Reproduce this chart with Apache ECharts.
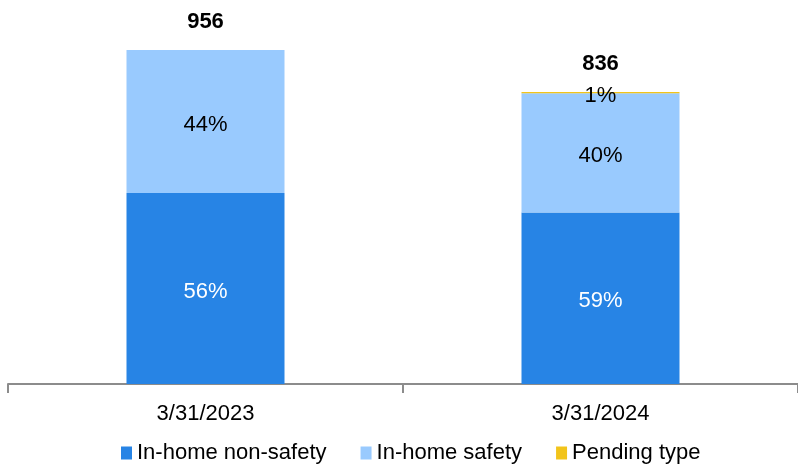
<!DOCTYPE html>
<html>
<head>
<meta charset="utf-8">
<script src="https://cdn.jsdelivr.net/npm/echarts@6/dist/echarts.min.js"></script>
<style>
html,body{margin:0;padding:0;background:#fff;}
#chart{width:798px;height:465px;}
</style>
</head>
<body>
<div id="chart"></div>
<script>
const categories = ['3/31/2023', '3/31/2024'];
const nonSafety = [547, 491];
const safety = [409, 341];
const pending = [null, 4];
const totals = [956, 836];
const nonSafetyLabels = ['56%', '59%'];
const safetyLabels = ['44%', '40%'];
const pendingLabels = ['', '1%'];

const FONT = '"Liberation Sans", Arial, sans-serif';
const chart = echarts.init(document.getElementById('chart'));

function seg(name, data, color, labels, labelColor) {
  return {
    name: name,
    type: 'bar',
    stack: 'total',
    barWidth: '40%',
    data: data,
    itemStyle: { color: color },
    label: {
      show: true,
      position: 'inside',
      offset: [0, 3],
      color: labelColor,
      fontFamily: FONT,
      fontSize: 22,
      formatter: p => labels[p.dataIndex]
    }
  };
}

chart.setOption({
  animation: false,
  grid: { left: 8, width: 795, top: 50, bottom: 81 },
  legend: {
    data: ['In-home non-safety', 'In-home safety', 'Pending type'],
    left: 116,
    top: 437,
    itemWidth: 11,
    itemHeight: 13,
    itemGap: 34,
    icon: 'rect',
    textStyle: { fontFamily: FONT, fontSize: 22, color: '#000' }
  },
  xAxis: {
    type: 'category',
    data: categories,
    axisLine: { lineStyle: { color: '#8c8c8c', width: 2 } },
    axisTick: { show: true, length: 9, lineStyle: { color: '#8c8c8c', width: 2 } },
    axisLabel: { fontFamily: FONT, fontSize: 22, color: '#000', margin: 19 }
  },
  yAxis: {
    type: 'value',
    min: 0,
    max: 'dataMax',
    show: false,
    splitLine: { show: false }
  },
  series: [
    seg('In-home non-safety', nonSafety, '#2784E5', nonSafetyLabels, '#fff'),
    seg('In-home safety', safety, '#99CAFE', safetyLabels, '#000'),
    seg('Pending type', pending, '#F2C41A', pendingLabels, '#000'),
    {
      name: 'Total',
      type: 'bar',
      stack: 'total',
      barWidth: '40%',
      data: totals.map(() => 0),
      itemStyle: { color: 'transparent' },
      label: {
        show: true,
        position: 'top',
        distance: 17,
        color: '#000',
        fontWeight: 'bold',
        fontFamily: FONT,
        fontSize: 22,
        formatter: p => String(totals[p.dataIndex])
      }
    }
  ]
});
</script>
</body>
</html>
